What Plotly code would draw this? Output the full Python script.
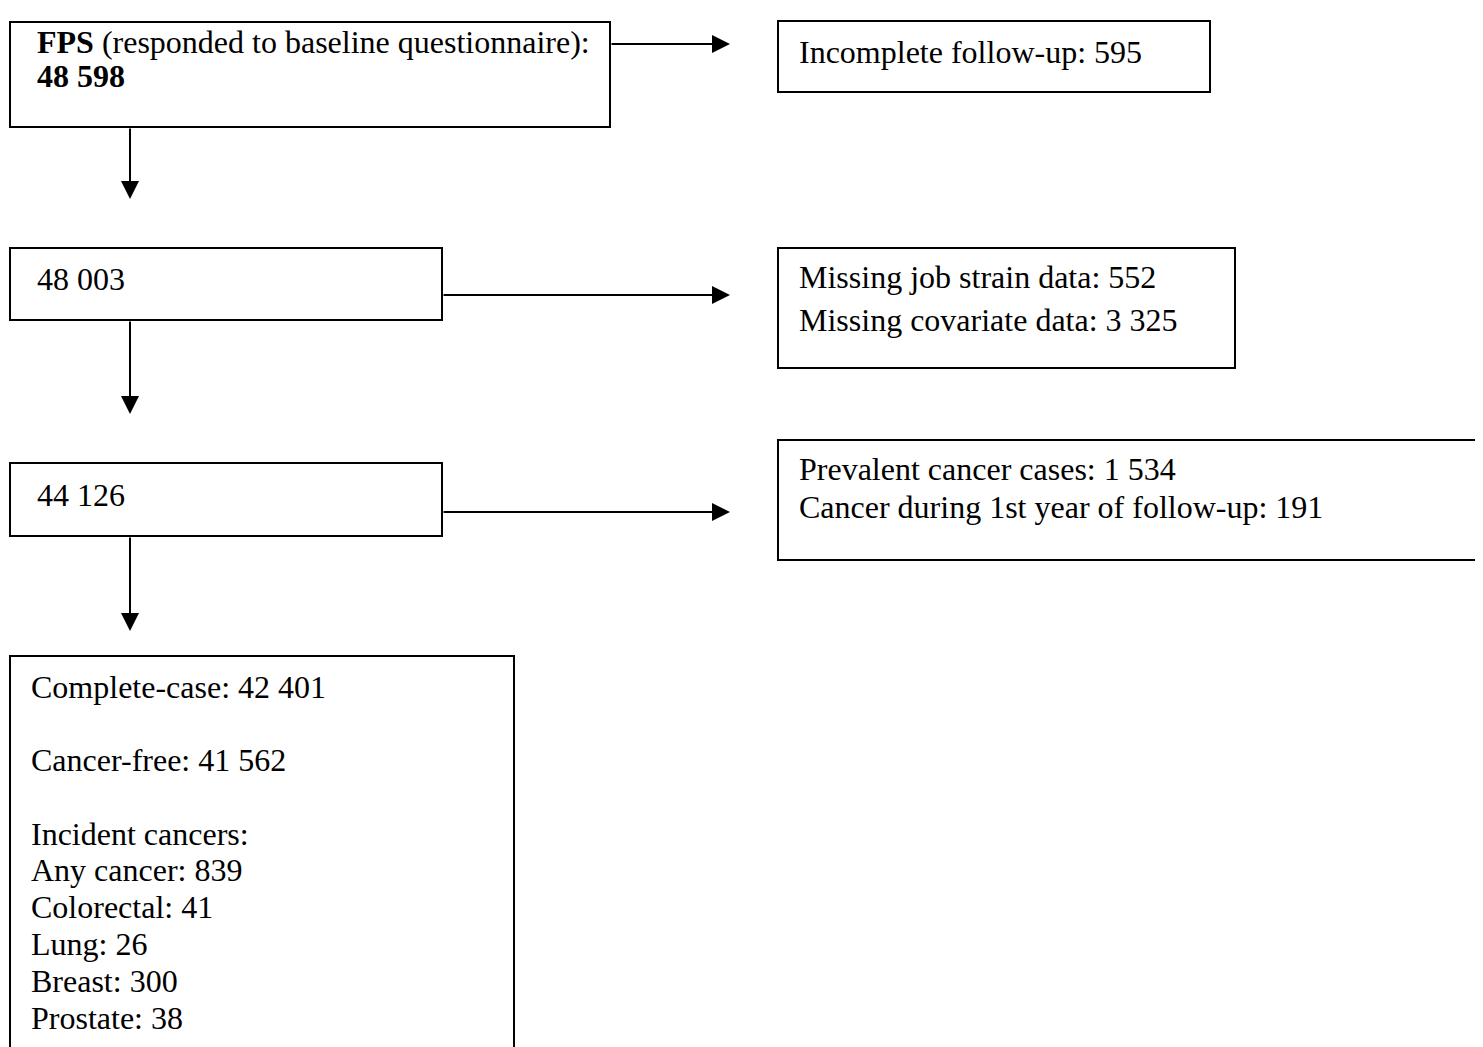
import plotly.graph_objects as go

# ---- data (flow counts) ----
fps_total = "48 598"
incomplete_followup = "595"
after_followup = "48 003"
missing_job_strain = "552"
missing_covariate = "3 325"
after_missing = "44 126"
prevalent_cancer = "1 534"
cancer_first_year = "191"
complete_case = "42 401"
cancer_free = "41 562"
incident_labels = ["Any cancer", "Colorectal", "Lung", "Breast", "Prostate"]
incident_values = ["839", "41", "26", "300", "38"]

# ---- layout geometry (page pixels, y downward) ----
W, H = 1483, 1047
PAGE_MARGIN = 8  # default body margin of the html page
FONT = dict(family="Liberation Serif, Times New Roman, serif", size=32, color="black")

boxes = [
    (10, 22, 610, 127),
    (778, 21, 1210, 92),
    (10, 248, 442, 320),
    (778, 248, 1235, 368),
    (10, 463, 442, 536),
    (778, 440, 1482, 560),
    (10, 656, 514, 1070),
]

texts = [
    (35, 42, "<b>FPS</b> (responded to baseline questionnaire):"),
    (35, 76, "<b>" + fps_total + "</b>"),
    (797, 52, "Incomplete follow-up: " + incomplete_followup),
    (35, 279, after_followup),
    (797, 277, "Missing job strain data: " + missing_job_strain),
    (797, 320, "Missing covariate data: " + missing_covariate),
    (35, 495, after_missing),
    (797, 469, "Prevalent cancer cases: " + prevalent_cancer),
    (797, 507, "Cancer during 1st year of follow-up: " + cancer_first_year),
    (29, 687, "Complete-case: " + complete_case),
    (29, 760, "Cancer-free: " + cancer_free),
    (29, 834, "Incident cancers:"),
]
inc_y = [870, 907, 944, 981, 1018]
for yy, lab, val in zip(inc_y, incident_labels, incident_values):
    texts.append((29, yy, f"{lab}: {val}"))

# arrows: (x_start, y_start, x_tip, y_tip)
arrows = [
    (610, 44, 730, 44),
    (130, 127, 130, 199),
    (442, 295, 730, 295),
    (130, 320, 130, 414),
    (442, 512, 730, 512),
    (130, 536, 130, 631),
]

fig = go.Figure()
fig.add_trace(go.Scatter(x=[PAGE_MARGIN, W], y=[PAGE_MARGIN, H], mode="markers",
                         marker=dict(opacity=0), hoverinfo="skip", showlegend=False))

for x0, y0, x1, y1 in boxes:
    fig.add_shape(type="rect", x0=x0, y0=y0, x1=x1, y1=y1, xref="x", yref="y",
                  line=dict(color="black", width=2), fillcolor="rgba(0,0,0,0)")

for x, y, t in texts:
    fig.add_annotation(x=x, y=y, text=t, xref="x", yref="y", showarrow=False,
                       xanchor="left", yanchor="middle", font=FONT)

for xs, ys, xt, yt in arrows:
    fig.add_annotation(x=xt, y=yt, ax=xs, ay=ys, xref="x", yref="y",
                       axref="x", ayref="y", text="", showarrow=True,
                       arrowhead=2, arrowsize=1.8, arrowwidth=2, arrowcolor="black",
                       standoff=0, startstandoff=0)

fig.update_layout(
    width=W - PAGE_MARGIN, height=H - PAGE_MARGIN, margin=dict(l=0, r=0, t=0, b=0),
    paper_bgcolor="white", plot_bgcolor="white", showlegend=False,
    xaxis=dict(range=[PAGE_MARGIN, W], visible=False, fixedrange=True),
    yaxis=dict(range=[H, PAGE_MARGIN], visible=False, fixedrange=True),
)

fig.write_html("out.html", config={"displayModeBar": False})
